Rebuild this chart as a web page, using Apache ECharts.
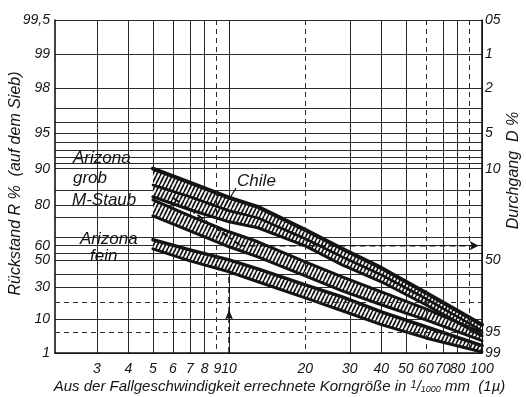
<!DOCTYPE html>
<html>
<head>
<meta charset="utf-8">
<script src="https://cdn.jsdelivr.net/npm/echarts@6/dist/echarts.min.js"></script>
<style>
  html, body { margin: 0; background: #fff; }
  #chart { width: 526px; height: 397px; }
</style>
</head>
<body>
<div id="chart"></div>
<script>
// Korngröße in 1/1000 mm, Rückstand R in %
const sizes = [5, 7, 10, 13, 20, 28, 40, 60, 100];
const grobUpper = [90.0, 86.9, 82.6, 79.4, 69.1, 58.0, 44.7, 26.1, 7.6];
const grobLower = [86.3, 82.9, 77.9, 74.9, 64.2, 52.6, 39.5, 22.0, 5.4];
const chileUpper = [86.3, 82.9, 77.9, 74.9, 64.2, 52.6, 39.5, 22.0, 5.4];
const chileLower = [82.9, 78.3, 73.1, 70.2, 59.9, 46.9, 34.3, 18.0, 3.9];
const mStaubUpper = [81.9, 75.8, 68.1, 62.4, 49.1, 38.0, 26.8, 15.5, 4.8];
const mStaubLower = [75.8, 68.6, 59.3, 52.6, 38.8, 27.6, 18.0, 9.7, 2.8];
const feinUpper = [63.6, 57.3, 50.5, 44.0, 32.0, 23.3, 13.8, 6.8, 1.9];
const feinLower = [58.0, 49.8, 41.8, 34.3, 22.6, 14.4, 7.6, 3.4, 1.1];

// Ablesebeispiel
const meanLineSize = [6, 11];
const meanLineR = [82.6, 60.6];
const readSize = [11, 97];
const readR = 60;
const readUpR = [1, 15, 44.7];
const chileLeaderSize = [9.73, 10.66];
const chileLeaderR = [80.5, 85.5];

// Achsen
const xMin = 2.05, xMax = 100;
const xTicks = [3, 4, 5, 6, 7, 8, 9, 10, 20, 30, 40, 50, 60, 70, 80, 100];
const gridX = [3, 4, 5, 6, 7, 8, 10, 30, 40, 50, 70, 80, 100];
const gridXDashed = [9, 20, 60, 90];
const leftTickR = [1, 10, 30, 50, 60, 80, 90, 95, 98, 99, 99.5];
const rightTickR = [99.5, 99, 98, 95, 90, 50, 5, 1];
const rightTickText = ['05', '1', '2', '5', '10', '50', '95', '99'];
const gridR = [99.5, 99, 98, 97, 96, 95, 94, 93, 92, 91, 90, 85, 80, 75, 65, 60, 55, 50, 40, 30, 10, 1];
const gridRDashed = [20, 5];

// RRSB-Netz: x log, y = log(ln(100/R))
const tx = d => Math.log10(d);
const ty = r => Math.log10(Math.log(100 / r));
const ink = '#141414';
const FONT = '"Liberation Sans", Arial, sans-serif';

const makeHatch = () => {
    const c = document.createElement('canvas');
    c.width = 4; c.height = 8;
    const g = c.getContext('2d');
    g.fillStyle = '#fff';
    g.fillRect(0, 0, 4, 8);
    g.strokeStyle = ink;
    g.lineWidth = 1.7;
    [-4, 0, 4].forEach(x0 => {
        g.beginPath(); g.moveTo(x0, 8); g.lineTo(x0 + 4, 0); g.stroke();
    });
    return c;
};
const hatch = { image: makeHatch(), repeat: 'repeat' };

const edge = (values, width) => ({
    type: 'line', symbol: 'none', z: 4,
    data: sizes.map((d, i) => [tx(d), ty(values[i])]),
    lineStyle: { color: ink, width: width, cap: 'round', join: 'round' }
});

const band = (upper, lower, wUp, wLow) => [
    {
        type: 'custom', z: 3,
        data: [[tx(sizes[0]), ty(upper[0])]],
        renderItem: (params, api) => {
            const top = sizes.map((d, i) => api.coord([tx(d), ty(upper[i])]));
            const bottom = sizes.map((d, i) => api.coord([tx(d), ty(lower[i])])).reverse();
            return {
                type: 'polygon',
                shape: { points: top.concat(bottom) },
                style: { fill: hatch, stroke: null }
            };
        }
    },
    edge(lower, wLow),
    edge(upper, wUp)
];

const chart = echarts.init(document.getElementById('chart'));
const label = (text, x, y) => ({
    type: 'text', x: x, y: y, z: 10,
    style: { text: text, font: 'italic 17px ' + FONT, fill: ink, verticalAlign: 'middle' }
});

const option = {
    animation: false,
    backgroundColor: '#fff',
    grid: { left: 55, right: 44, top: 20, bottom: 44, containLabel: false, outerBoundsMode: 'none' },
    xAxis: {
        type: 'value', min: tx(xMin), max: tx(xMax),
        name: 'Aus der Fallgeschwindigkeit errechnete Korngröße in {s|1}/{t|1000} mm  (1µ)',
        nameLocation: 'middle', nameGap: 26, nameMoveOverlap: false,
        nameTextStyle: {
            fontFamily: FONT, fontStyle: 'italic', fontSize: 15, color: ink, padding: [0, 0, 0, 22],
            rich: {
                s: { fontFamily: FONT, fontStyle: 'italic', fontSize: 11, color: ink, verticalAlign: 'top' },
                t: { fontFamily: FONT, fontStyle: 'italic', fontSize: 9, color: ink, verticalAlign: 'bottom' }
            }
        },
        axisLine: { show: true, onZero: false, lineStyle: { color: ink, width: 1.6 } },
        axisTick: { show: false, customValues: gridX.map(tx) },
        axisLabel: {
            customValues: xTicks.map(tx), margin: 9,
            fontFamily: FONT, fontStyle: 'italic', fontSize: 14, color: ink,
            formatter: v => String(Math.round(Math.pow(10, v)))
        },
        splitLine: { show: true, lineStyle: { color: '#2b2b2b', width: 1 } }
    },
    yAxis: [
        {
            type: 'value', inverse: true, min: ty(99.5), max: ty(1),
            name: 'Rückstand R %  (auf dem Sieb)',
            nameLocation: 'middle', nameGap: 31, nameRotate: 90, nameMoveOverlap: false,
            nameTextStyle: { fontFamily: FONT, fontStyle: 'italic', fontSize: 16, color: ink, padding: [0, 0, 0, 6] },
            axisLine: { show: true, onZero: false, lineStyle: { color: ink, width: 1.6 } },
            axisTick: { show: false, customValues: gridR.map(ty) },
            axisLabel: {
                customValues: leftTickR.map(ty), margin: 5,
                fontFamily: FONT, fontStyle: 'italic', fontSize: 14, color: ink,
                formatter: v => String(Math.round(100 * Math.exp(-Math.pow(10, v)) * 10) / 10).replace('.', ',')
            },
            splitLine: { show: true, lineStyle: { color: '#2b2b2b', width: 1 } }
        },
        {
            type: 'value', inverse: true, min: ty(99.5), max: ty(1), position: 'right',
            name: 'Durchgang  D %',
            nameLocation: 'middle', nameGap: 24, nameRotate: 90, nameMoveOverlap: false,
            nameTextStyle: { fontFamily: FONT, fontStyle: 'italic', fontSize: 16, color: ink, padding: [0, 0, 0, 32] },
            axisLine: { show: true, onZero: false, lineStyle: { color: ink, width: 1.6 } },
            axisTick: { show: false },
            axisLabel: {
                customValues: rightTickR.map(ty), margin: 3,
                fontFamily: FONT, fontStyle: 'italic', fontSize: 14, color: ink,
                formatter: v => {
                    const i = rightTickR.findIndex(r => Math.abs(ty(r) - v) < 1e-6);
                    return i >= 0 ? rightTickText[i] : '';
                }
            },
            splitLine: { show: false }
        }
    ],
    graphic: [
        label('Arizona', 73, 158),
        label('grob', 73, 178),
        label('M-Staub', 72, 200),
        label('Arizona', 80, 239),
        label('fein', 90, 256)
    ],
    series: [
        {
            type: 'line', data: [], silent: true,
            markLine: {
                silent: true, symbol: 'none', label: { show: false },
                lineStyle: { color: '#2b2b2b', width: 1, type: [5, 4] },
                data: gridRDashed.map(r => ({ yAxis: ty(r) })).concat(gridXDashed.map(d => ({ xAxis: tx(d) })))
            }
        },
        ...band(feinUpper, feinLower, 3.5, 3),
        ...band(mStaubUpper, mStaubLower, 3, 3),
        ...band(chileUpper, chileLower, 2.5, 3),
        ...band(grobUpper, grobLower, 4, 2),
        {
            type: 'line', symbol: 'none', z: 5,
            data: meanLineSize.map((d, i) => [tx(d), ty(meanLineR[i])]),
            lineStyle: { color: ink, width: 2, type: [7, 3, 2, 3] }
        },
        {
            type: 'line', symbol: 'none', z: 5,
            data: [
                [tx(readSize[0]), ty(readR)],
                { value: [tx(readSize[1]), ty(readR)], symbol: 'arrow', symbolSize: [7, 9], symbolRotate: -90 }
            ],
            itemStyle: { color: ink },
            lineStyle: { color: ink, width: 1.6, type: [6, 4] }
        },
        {
            type: 'line', symbol: 'none', z: 5,
            data: [
                [tx(10), ty(readUpR[0])],
                { value: [tx(10), ty(readUpR[1])], symbol: 'arrow', symbolSize: [6, 10] },
                [tx(10), ty(readUpR[2])]
            ],
            itemStyle: { color: ink },
            lineStyle: { color: ink, width: 1.6, type: [6, 4] }
        },
        {
            type: 'line', symbol: 'none', z: 6,
            data: chileLeaderSize.map((d, i) => [tx(d), ty(chileLeaderR[i])]),
            lineStyle: { color: ink, width: 1.2 },
            endLabel: {
                show: true, formatter: 'Chile', distance: 1, offset: [0, -7],
                fontFamily: FONT, fontStyle: 'italic', fontSize: 17, color: ink
            }
        }
    ]
};
chart.setOption(option);
</script>
</body>
</html>
